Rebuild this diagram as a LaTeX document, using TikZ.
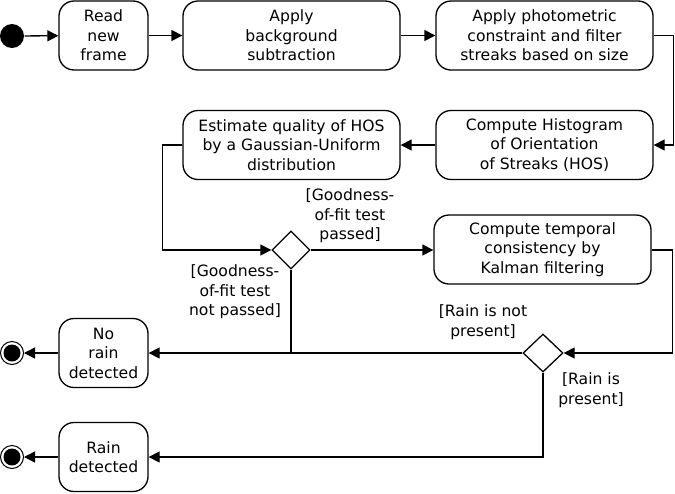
\documentclass[tikz,border=0pt]{standalone}
\usepackage{fontspec}
\setmainfont{DejaVu Sans}
\usetikzlibrary{arrows.meta,shapes.geometric}
\begin{document}
\begin{tikzpicture}[x=1pt,y=-1pt,
  line width=1.3pt,
  act/.style={draw,rounded corners=15pt,align=center,minimum height=69pt,inner sep=2pt,font=\fontsize{15.6}{19.5}\selectfont},
  dec/.style={draw,diamond,minimum width=38pt,minimum height=38pt,inner sep=0pt},
  lbl/.style={align=center,font=\fontsize{15.6}{19.5}\selectfont,inner sep=0pt},
  arr/.style={-{Triangle[length=11pt,width=11pt]}},
  startdot/.style={circle,fill=black,minimum size=24pt,inner sep=0pt},
  enddot/.style={circle,draw,fill=white,minimum size=23pt,inner sep=0pt,line width=1pt,
    path picture={\fill[black] (path picture bounding box.center) circle (8.5pt);}}
]
\useasboundingbox (0,0) rectangle (675,493);
\node[startdot] (s) at (12,36) {};
\node[act,minimum width=89pt] (read) at (103.5,35.5) {Read\\new\\frame};
\node[act,minimum width=217pt] (bg) at (291.5,35.5) {Apply\\background\\subtraction};
\node[act,minimum width=217pt] (photo) at (544.5,35.5) {Apply photometric\\constraint and filter\\streaks based on size};
\node[act,minimum width=217pt] (hos) at (544.5,145) {Compute Histogram\\of Orientation\\of Streaks (HOS)};
\node[act,minimum width=217pt] (est) at (291.5,145) {Estimate quality of HOS\\by a Gaussian-Uniform\\distribution};
\node[dec] (d1) at (291,250) {};
\node[act,minimum width=217pt] (kal) at (542.5,249.5) {Compute temporal\\consistency by\\Kalman filtering};
\node[dec,minimum width=40pt] (d2) at (543,353) {};
\node[act,minimum width=89pt] (norain) at (103.5,353) {No\\rain\\detected};
\node[act,minimum width=89pt] (rain) at (103.5,457) {Rain\\detected};
\node[enddot] (e1) at (12,353) {};
\node[enddot] (e2) at (12,457) {};
\coordinate (j1) at (291,353);

\draw[arr] (s) -- (read);
\draw[arr] (read) -- (bg);
\draw[arr] (bg) -- (photo);
\draw[arr] (photo.east) -- ++(20,0) |- (hos.east);
\draw[arr] (hos) -- (est);
\draw[arr] (est.west) -- ++(-20,0) |- (d1.west);
\draw[arr] (d1.east) -- (kal.west |- d1.east);
\draw[arr] (kal.east |- d1.east) -- ++(21,0) |- (d2.east);
\draw[arr] (d2.west) -- (norain.east);
\draw (d1.south) -- (j1);
\draw[arr] (d2.south) |- (rain.east);
\draw[arr] (norain) -- (e1);
\draw[arr] (rain) -- (e2);

\node[lbl] (l1) at (350,216) {[Goodness-\\of-fit test\\passed]};
\node[lbl] (l2) at (235,292) {[Goodness-\\of-fit test\\not passed]};
\node[lbl] (l3) at (483,322) {[Rain is not\\present]};
\node[lbl] (l4) at (591,390) {[Rain is\\present]};
\end{tikzpicture}
\end{document}
